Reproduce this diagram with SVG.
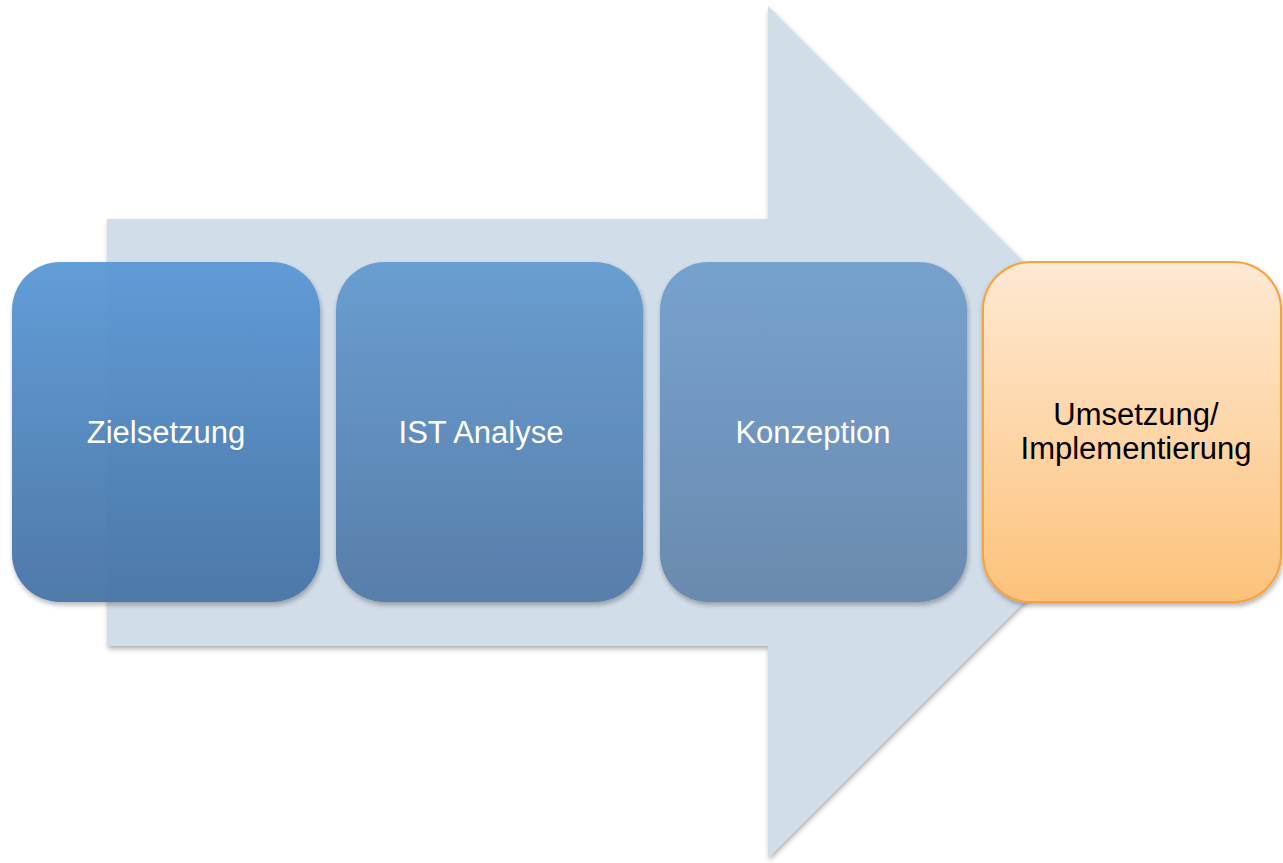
<svg xmlns="http://www.w3.org/2000/svg" width="1283" height="863" viewBox="0 0 1283 863">
<style>
.lbl{font-family:"Liberation Sans",Arial,sans-serif;font-size:31px;text-anchor:middle}
.w{fill:#ffffff}
.k{fill:#000000}
</style>
<defs>
<filter id="sh" x="-10%" y="-10%" width="125%" height="125%">
<feDropShadow dx="1" dy="3" stdDeviation="2.5" flood-color="#000" flood-opacity="0.3"/>
</filter>
<linearGradient id="g1" x1="0" y1="0" x2="0" y2="1"><stop offset="0" stop-color="#5b98d6"/><stop offset="1" stop-color="#4673a5"/></linearGradient>
<linearGradient id="g2" x1="0" y1="0" x2="0" y2="1"><stop offset="0" stop-color="#659bd0"/><stop offset="1" stop-color="#5279a7"/></linearGradient>
<linearGradient id="g3" x1="0" y1="0" x2="0" y2="1"><stop offset="0" stop-color="#729fcd"/><stop offset="1" stop-color="#6586ac"/></linearGradient>
<linearGradient id="g4" x1="0" y1="0" x2="0" y2="1"><stop offset="0" stop-color="#fee9d4"/><stop offset="1" stop-color="#fdc27b"/></linearGradient>
</defs>
<g id="arrow">
<polygon points="107,219 768,219 768,6 1194,432 768,858 768,646 107,646" fill="#d1dde9" filter="url(#sh)"/>
</g>
<g id="node1">
<rect x="12" y="262" width="308" height="340" rx="48" fill="url(#g1)" opacity="0.95" filter="url(#sh)"/>
<text class="lbl w" x="166" y="443">Zielsetzung</text>
</g>
<g id="node2">
<rect x="336" y="262" width="307" height="340" rx="48" fill="url(#g2)" opacity="0.95" filter="url(#sh)"/>
<text class="lbl w" x="481" y="443">IST Analyse</text>
</g>
<g id="node3">
<rect x="660" y="262" width="307" height="340" rx="48" fill="url(#g3)" opacity="0.95" filter="url(#sh)"/>
<text class="lbl w" x="813" y="443">Konzeption</text>
</g>
<g id="node4">
<rect x="983" y="262" width="298" height="340" rx="48" fill="url(#g4)" stroke="#f7a23a" stroke-width="2" filter="url(#sh)"/>
<text class="lbl k" x="1136" y="425">Umsetzung/</text>
<text class="lbl k" x="1136" y="459">Implementierung</text>
</g>
<g id="connectors"></g>
</svg>
